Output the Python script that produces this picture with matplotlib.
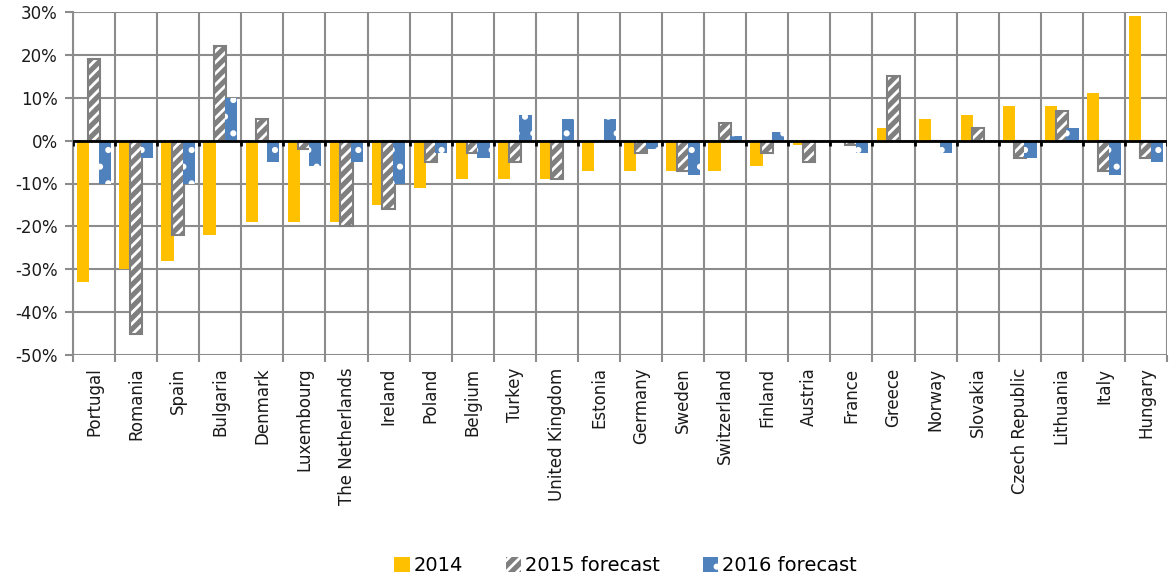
import matplotlib
matplotlib.use('Agg')
import numpy as np
import matplotlib.pyplot as plt
from matplotlib.ticker import FuncFormatter

# data (% change)
countries = ['Portugal', 'Romania', 'Spain', 'Bulgaria', 'Denmark', 'Luxembourg',
             'The Netherlands', 'Ireland', 'Poland', 'Belgium', 'Turkey',
             'United Kingdom', 'Estonia', 'Germany', 'Sweden', 'Switzerland',
             'Finland', 'Austria', 'France', 'Greece', 'Norway', 'Slovakia',
             'Czech Republic', 'Lithuania', 'Italy', 'Hungary']
v2014 = [-33, -30, -28, -22, -19, -19, -19, -15, -11, -9, -9, -9, -7, -7, -7, -7,
         -6, -1, 0, 3, 5, 6, 8, 8, 11, 29]
v2015 = [19, -45, -22, 22, 5, -2, -20, -16, -5, -3, -5, -9, 0, -3, -7, 4,
         -3, -5, -1, 15, 0, 3, -4, 7, -7, -4]
v2016 = [-10, -4, -10, 10, -5, -6, -5, -10, -3, -4, 6, 5, 5, -2, -8, 1,
         2, 0, -3, 0, -3, 0, -4, 3, -8, -5]

yellow = '#FFC000'
grey = '#7F7F7F'
blue = '#4F81BD'
gridc = '#8C8C8C'

plt.rcParams['hatch.linewidth'] = 2.0

fig = plt.figure(figsize=(11.69, 5.78), dpi=100)
ax = fig.add_axes([73/1169, 1 - 355/578, (1167-73)/1169, (355-12)/578])

x = np.arange(len(countries))
edges = np.arange(len(countries) + 1) - 0.5
w = 0.29
off = 0.255

b1 = ax.bar(x - off, v2014, w, color=yellow, linewidth=0, zorder=3, label='2014')
b2 = ax.bar(x, v2015, w, facecolor=grey, edgecolor='white', hatch='///',
            linewidth=0, zorder=3, label='2015 forecast')
ax.bar(x, v2015, w, fill=False, edgecolor=grey, linewidth=1.5, zorder=4)
b3 = ax.bar(x + off, v2016, w, facecolor=blue, edgecolor='white', hatch='.',
            linewidth=0, zorder=5, label='2016 forecast')

ax.set_xlim(-0.5, len(countries) - 0.5)
ax.set_ylim(-50, 30)
ax.set_yticks(np.arange(-50, 31, 10))
ax.yaxis.set_major_formatter(FuncFormatter(lambda v, p: f'{v:.0f}%'))

ax.set_xticks(x)
ax.set_xticklabels(countries, rotation=90, fontsize=12, color='#1a1a1a')
ax.set_xticks(edges, minor=True)
ax.tick_params(axis='x', which='major', length=0, pad=9)
ax.tick_params(axis='x', which='minor', length=5, color=gridc, width=1.5)
ax.tick_params(axis='y', length=6, color=gridc, width=1.5, labelsize=12,
               labelcolor='#1a1a1a', pad=5)

ax.grid(True, which='minor', axis='x', color=gridc, linewidth=1.5, zorder=0)
ax.grid(True, which='major', axis='y', color=gridc, linewidth=1.5, zorder=0)
for s in ax.spines.values():
    s.set_color(gridc)
    s.set_linewidth(1.5)
ax.spines['top'].set_visible(False)
ax.spines['right'].set_visible(False)
ax.spines['bottom'].set_visible(False)
ax.set_axisbelow(True)

# zero line with small tick marks at category boundaries
ax.axhline(0, color='black', linewidth=2, zorder=6)
ax.vlines(edges, -1.2, 0, color='black', linewidth=2, zorder=6)

fig.legend(handles=[b1, b2, b3], loc='lower center', ncol=3,
           bbox_to_anchor=(0.535, -0.025), frameon=False, fontsize=14,
           handlelength=0.8, handleheight=0.8, handletextpad=0.2,
           columnspacing=2.2)

fig.savefig('out.png', dpi=100)
